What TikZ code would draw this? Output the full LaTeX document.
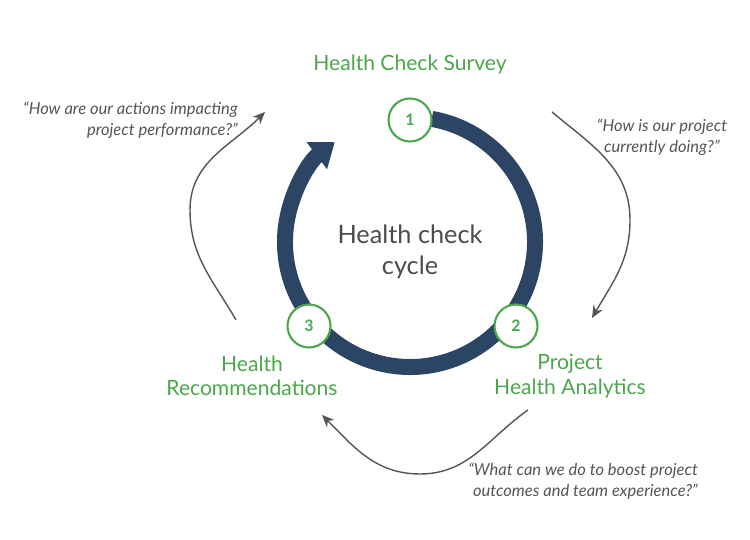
\documentclass[tikz,border=0pt]{standalone}
\usepackage{fontspec}
\setmainfont{Lato}
\usetikzlibrary{arrows.meta,positioning}
\definecolor{ringblue}{HTML}{2C4564}
\definecolor{stepgreen}{HTML}{4CA64C}
\definecolor{quotegray}{HTML}{555555}
\tikzset{
  ring/.style={draw=ringblue, line width=0.32cm},
  stepnode/.style={circle, draw=stepgreen, line width=1.2pt, fill=white, minimum size=0.86cm, text=stepgreen, font=\bfseries\small, inner sep=0pt},
  steplabel/.style={text=stepgreen, font=\large, align=center},
  quote/.style={text=quotegray, font=\itshape\fontsize{9.4}{12}\selectfont},
  flow/.style={draw=quotegray, line width=0.8pt, -{Stealth[length=7pt,width=6pt]}}
}
\begin{document}
\begin{tikzpicture}[x=0.02cm, y=0.02cm]
\useasboundingbox (0,0) rectangle (750,540);
% cycle ring
\coordinate (ctr) at (410,298);
\draw[ring, -{Triangle[width=0.65cm,length=0.45cm]}] (ctr) ++(80:125) arc (80:-233:125);
\node (S1)[stepnode] at (410,420) {1};
\node (S2)[stepnode] at (516,214) {2};
\node (S3)[stepnode] at (309,214) {3};
\node (mid)[text=quotegray!90!black, font=\Large, align=center] at (410,288) {Health check\\cycle};
% step labels
\node (L1)[steplabel] at (410,475) {Health Check Survey};
\node (L2)[steplabel] at (570,164) {Project\\Health Analytics};
\node (L3)[steplabel] at (252,164) {Health\\Recommendations};
% questions
\node (Q1)[quote, align=right, anchor=east] at (244,420) {“How are our actions impacting\\project performance?”};
\node (Q2)[quote, align=center] at (662,403) {“How is our project\\currently doing?”};
\node (Q3)[quote, align=right, anchor=east] at (704,59) {“What can we do to boost project\\outcomes and team experience?”};
% flow arrows
\coordinate (r0) at (552,428); \coordinate (r1) at (630,320); \coordinate (r2) at (592,222);
\coordinate (b0) at (528,130); \coordinate (b1) at (420,66); \coordinate (b2) at (322,125);
\coordinate (l0) at (236,220); \coordinate (l1) at (190,330); \coordinate (l2) at (265,428);
\draw[flow] (r0) to[out=-40,in=90] (r1) to[out=-90,in=60] (r2);
\draw[flow] (b0) to[out=-145,in=0] (b1) to[out=180,in=-45] (b2);
\draw[flow] (l0) to[out=120,in=-90] (l1) to[out=90,in=-135] (l2);
\end{tikzpicture}
\end{document}
